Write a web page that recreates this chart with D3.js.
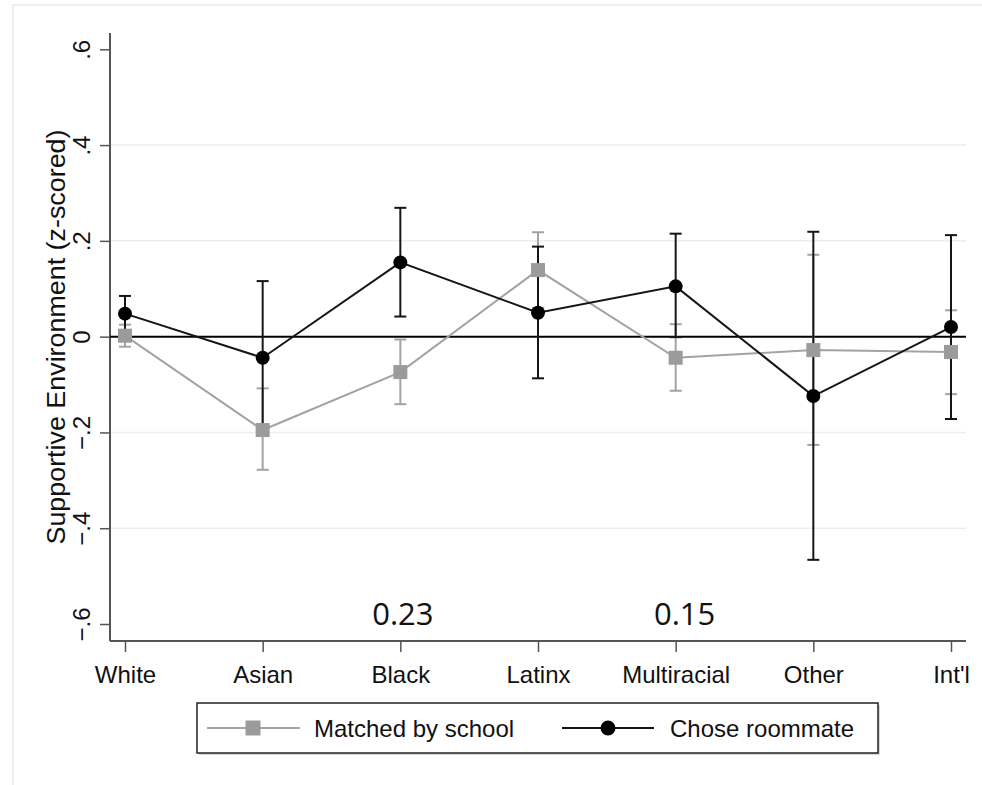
<!DOCTYPE html>
<html>
<head>
<meta charset="utf-8">
<script src="https://cdn.jsdelivr.net/npm/d3@7"></script>
<style>
  html, body { margin: 0; padding: 0; background: #ffffff; }
  svg { display: block; }
  text { font-family: "Liberation Sans", Arial, sans-serif; }
</style>
</head>
<body>
<svg id="chart" width="982" height="785"></svg>
<script>
// ---------------- data ----------------
const categories = ["White", "Asian", "Black", "Latinx", "Multiracial", "Other", "Int'l"];
const matched   = [0.002, -0.195, -0.074, 0.139, -0.044, -0.028, -0.032];
const matchedLo = [-0.021, -0.278, -0.141, 0.060, -0.113, -0.226, -0.120];
const matchedHi = [0.025, -0.108, -0.006, 0.218, 0.026, 0.171, 0.055];
const chose     = [0.048, -0.044, 0.155, 0.050, 0.105, -0.124, 0.020];
const choseLo   = [0.011, -0.204, 0.042, -0.087, -0.001, -0.466, -0.172];
const choseHi   = [0.085, 0.116, 0.269, 0.188, 0.215, 0.219, 0.212];
const yTicks = [-0.6, -0.4, -0.2, 0, 0.2, 0.4, 0.6];
const gridTicks = [-0.4, -0.2, 0.2, 0.4];
const seriesNames = ["Matched by school", "Chose roommate"];
const notes = [{cat: "Black", text: "0.23"}, {cat: "Multiracial", text: "0.15"}];
const yTitle = "Supportive Environment (z-scored)";

// ---------------- layout ----------------
const svg = d3.select("#chart");
const plotL = 110, plotR = 966, axisTop = 33, axisBot = 641;
const x = d3.scalePoint().domain(categories).range([125, 951]);
const y = d3.scaleLinear().domain([-0.6, 0.6]).range([624, 49.3]);

const GREY = "#a3a3a3", GREYFILL = "#9b9b9b", BLACK = "#151515";

// outer faint frame
svg.append("rect").attr("x", 13).attr("y", 5).attr("width", 1000).attr("height", 800)
  .attr("fill", "none").attr("stroke", "#e9f0f2").attr("stroke-width", 2);

// grid
svg.append("g").selectAll("line").data(gridTicks).join("line")
  .attr("x1", plotL).attr("x2", plotR)
  .attr("y1", d => y(d)).attr("y2", d => y(d))
  .attr("stroke", "#ededed").attr("stroke-width", 1.5);

// y axis
const yAxis = svg.append("g").attr("transform", `translate(${plotL},0)`)
  .call(d3.axisLeft(y).tickValues(yTicks).tickSize(10)
    .tickFormat(d => d === 0 ? "0" : d3.format(".1f")(d).replace("0.", ".")));
yAxis.select(".domain").attr("d", `M0,${axisTop}V${axisBot}`).attr("stroke", "#555").attr("stroke-width", 2);
yAxis.selectAll(".tick line").attr("stroke", "#555").attr("stroke-width", 1.5);
yAxis.selectAll(".tick text")
  .attr("transform", "rotate(-90)")
  .attr("x", 0).attr("y", -20).attr("dy", 0)
  .attr("text-anchor", "middle")
  .attr("fill", "#111").style("font-size", "24px")
  .style("font-family", "'Liberation Sans', Arial, sans-serif");

// x axis
const xAxis = svg.append("g").attr("transform", `translate(0,${axisBot})`)
  .call(d3.axisBottom(x).tickSize(11));
xAxis.select(".domain").attr("d", `M${plotL},0H${plotR}`).attr("stroke", "#555").attr("stroke-width", 2);
xAxis.selectAll(".tick line").attr("stroke", "#555").attr("stroke-width", 1.5);
xAxis.selectAll(".tick text")
  .attr("y", 42).attr("dy", 0)
  .attr("fill", "#111").style("font-size", "24px")
  .style("font-family", "'Liberation Sans', Arial, sans-serif");

// y title
svg.append("text").attr("transform", `translate(65,337) rotate(-90)`)
  .attr("text-anchor", "middle").attr("fill", "#111").style("font-size", "25px")
  .attr("textLength", 415).attr("lengthAdjust", "spacingAndGlyphs")
  .text(yTitle);

// zero line
svg.append("line").attr("x1", plotL).attr("x2", plotR)
  .attr("y1", y(0)).attr("y2", y(0)).attr("stroke", "#000").attr("stroke-width", 2);

function drawCI(lo, hi, color) {
  const g = svg.append("g").attr("stroke", color).attr("stroke-width", 2).attr("fill", "none");
  categories.forEach((c, i) => {
    const cx = x(c);
    g.append("line").attr("x1", cx).attr("x2", cx).attr("y1", y(lo[i])).attr("y2", y(hi[i]));
    g.append("line").attr("x1", cx - 6).attr("x2", cx + 6).attr("y1", y(lo[i])).attr("y2", y(lo[i]));
    g.append("line").attr("x1", cx - 6).attr("x2", cx + 6).attr("y1", y(hi[i])).attr("y2", y(hi[i]));
  });
}

const line = d3.line().x((d, i) => x(categories[i])).y(d => y(d));

// CIs: grey underneath, black on top
drawCI(matchedLo, matchedHi, GREY);
drawCI(choseLo, choseHi, BLACK);
// grey series
svg.append("path").datum(matched).attr("d", line)
  .attr("fill", "none").attr("stroke", GREY).attr("stroke-width", 2);
svg.append("g").selectAll("rect").data(matched).join("rect")
  .attr("x", (d, i) => x(categories[i]) - 7).attr("y", d => y(d) - 7)
  .attr("width", 14).attr("height", 14).attr("fill", GREYFILL);
// black series
svg.append("path").datum(chose).attr("d", line)
  .attr("fill", "none").attr("stroke", BLACK).attr("stroke-width", 2);
svg.append("g").selectAll("circle").data(chose).join("circle")
  .attr("cx", (d, i) => x(categories[i])).attr("cy", d => y(d))
  .attr("r", 7).attr("fill", "#000");

// annotations
svg.append("g").selectAll("text").data(notes).join("text")
  .attr("x", d => x(d.cat) + (d.cat === "Black" ? 2.5 : 9))
  .attr("y", 625)
  .attr("text-anchor", "middle")
  .style("font-family", "'Open Sans', 'Noto Sans', sans-serif")
  .style("font-size", "31px").attr("fill", "#111")
  .text(d => d.text);

// legend
svg.append("rect").attr("x", 199).attr("y", 705).attr("width", 681).attr("height", 50)
  .attr("fill", "#d8d8d8");
svg.append("rect").attr("x", 197).attr("y", 703).attr("width", 681).attr("height", 50)
  .attr("fill", "#fff").attr("stroke", "#222").attr("stroke-width", 1.5);
const lg = svg.append("g");
lg.append("line").attr("x1", 207).attr("x2", 300).attr("y1", 728).attr("y2", 728)
  .attr("stroke", GREY).attr("stroke-width", 2);
lg.append("rect").attr("x", 253 - 7.5).attr("y", 728 - 7.5).attr("width", 15).attr("height", 15)
  .attr("fill", GREYFILL);
lg.append("text").attr("x", 314).attr("y", 737).style("font-size", "24px").attr("fill", "#111")
  .text(seriesNames[0]);
lg.append("line").attr("x1", 562).attr("x2", 654).attr("y1", 728).attr("y2", 728)
  .attr("stroke", BLACK).attr("stroke-width", 2);
lg.append("circle").attr("cx", 608).attr("cy", 728).attr("r", 7.5).attr("fill", "#000");
lg.append("text").attr("x", 670).attr("y", 737).style("font-size", "24px").attr("fill", "#111")
  .text(seriesNames[1]);
</script>
</body>
</html>
